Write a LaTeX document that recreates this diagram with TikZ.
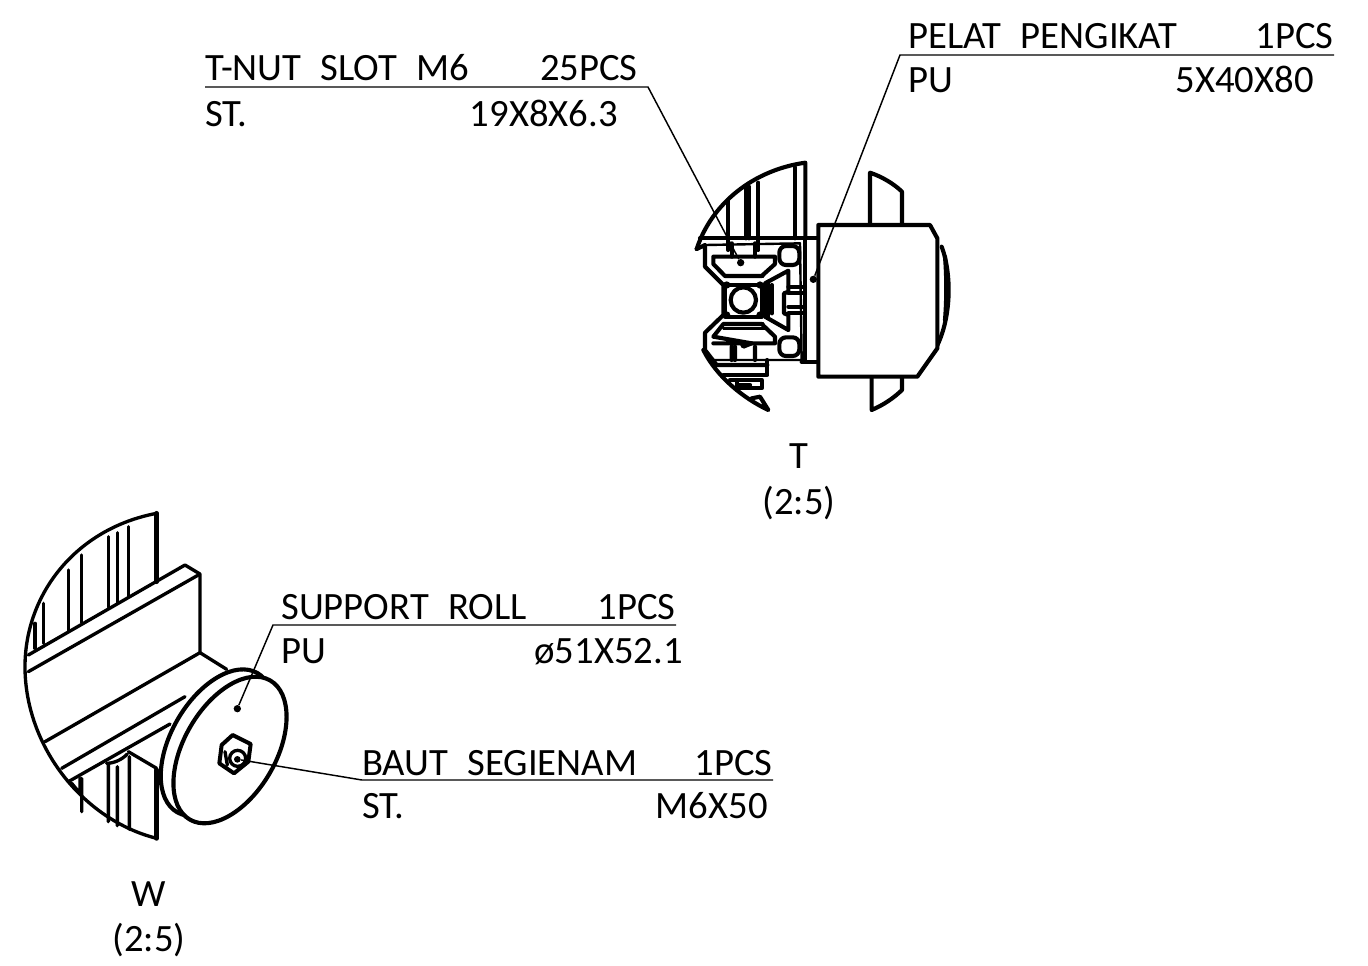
\documentclass[tikz,border=0pt]{standalone}
\usepackage{fontspec}
\setmainfont{Carlito}[WordSpace=2.2]
\tikzset{
 thick line/.style={line width=3.1pt,line join=round,line cap=round},
 med line/.style={line width=2.5pt,line join=round,line cap=round},
 thin line/.style={line width=1.8pt,line join=round,line cap=round},
 leader/.style={line width=1.1pt},
 lab/.style={inner sep=0pt,font=\fontsize{29}{29}\selectfont,anchor=base west},
 labr/.style={inner sep=0pt,font=\fontsize{29}{29}\selectfont,anchor=base east},
 labc/.style={inner sep=0pt,font=\fontsize{29}{29}\selectfont,anchor=base},
 dotn/.style={circle,fill=black,inner sep=0pt,minimum size=6pt}
}
\begin{document}
\begin{tikzpicture}[x=0.75pt,y=-0.75pt]
\useasboundingbox (0,0) rectangle (1368,965);
% ---------- view T
\begin{scope}[shift={(680,150)},x=0.25pt,y=-0.25pt]
 \draw[thick line] (50,297) .. controls (95,160) and (220,60) .. (376,38) -- (376,265);
 \draw[thick line] (145,150) -- (145,300) (197,115) -- (197,265) (207,110) -- (207,265) (235,98) -- (235,300) (345,52) -- (345,265);
 \draw[thick line] (60,265) -- (415,265);
 \draw[thick line] (50,297) -- (75,285) -- (75,350) -- (130,405) -- (130,495) -- (75,548) -- (75,600) -- (110,645) -- (262,645);
 \draw[thin line] (75,285) -- (360,280) -- (365,630) -- (100,630);
 \draw[thick line] (100,320) -- (285,320) -- (285,342) -- (245,378) -- (135,378) -- (100,342) -- cycle;
 \draw[thick line] (155,280) -- (155,320) (225,280) -- (225,320);
 \draw[thick line] (100,580) -- (185,580) (215,580) -- (285,580) -- (285,560) -- (245,522) -- (130,522) -- (100,560) -- cycle;
 \draw[thin line] (130,535) -- (255,535);
 \draw[thick line] (155,590) -- (155,630) (165,590) -- (165,630) (225,590) -- (225,630) (185,580) -- (190,590) -- (215,580);
 \draw[thick line] (135,405) rectangle (245,500);
 \draw[thick line,fill=white] (190,450) circle[radius=38];
 \fill (140,405) circle[radius=11] (240,405) circle[radius=11] (140,495) circle[radius=11] (240,495) circle[radius=11];
 \draw[thin line] (135,380) -- (250,380) (135,520) -- (250,520);
 \draw[thick line,rounded corners=5] (298,288) rectangle (358,345);
 \draw[thick line,rounded corners=5] (298,562) rectangle (358,618);
 \draw[thick line] (255,400) -- (325,362) -- (325,425) -- (312,430) -- (312,490) -- (325,495) -- (325,540) -- (255,500) -- cycle;
 \draw[thick line] (275,405) -- (275,490) (265,395) -- (265,500);
 \draw[thick line] (325,410) -- (375,410) (325,430) -- (375,430) (325,470) -- (375,470) (325,490) -- (375,490);
 \draw[thick line] (375,265) -- (375,635);
 \draw[thick line] (365,635) -- (415,635);
 \draw[thick line] (262,630) -- (262,675) -- (130,675);
 \draw[thick line] (150,690) -- (245,690) -- (245,715) -- (165,715);
 \draw[thick line] (170,690) -- (170,705) -- (210,705);
 \draw[thick line] (70,600) .. controls (110,680) and (190,745) .. (265,780) -- (240,740) -- (215,745);
 \draw[thick line] (570,225) -- (570,68) .. controls (605,80) and (640,100) .. (666,125) -- (666,225);
 \draw[thick line] (575,680) -- (575,780) .. controls (610,765) and (640,745) .. (666,720) -- (666,680);
 \draw[thick line,fill=white] (785,290) .. controls (815,370) and (815,500) .. (770,590);
 \draw[thick line] (795,320) .. controls (800,380) and (800,450) .. (795,510);
 \draw[thick line,fill=white] (415,225) -- (750,225) -- (772,265) -- (772,595) -- (712,680) -- (415,680) -- cycle;
 \node[dotn,minimum size=5.5pt] (dotnut) at (182,338) {};
 \node[dotn,minimum size=5.5pt] (dotpl) at (400,388) {};
\end{scope}
% ---------- view W
\begin{scope}[shift={(10,500)},x=0.25pt,y=-0.25pt]
 \draw[med line] (440,40) .. controls (200,85) and (45,280) .. (45,500) .. controls (45,740) and (220,960) .. (440,1015);
 \draw[thick line,line width=3.6pt] (440,40) -- (440,245);
 \draw[thick line,line width=3.6pt] (440,810) -- (440,1015);
 \draw[med line] (75,370) -- (75,445) (100,310) -- (100,430) (175,210) -- (175,395) (215,165) -- (215,368) (295,110) -- (295,322) (322,98) -- (322,308) (355,80) -- (355,290);
 \draw[med line] (55,465) -- (525,195) -- (570,222) -- (570,455);
 \draw[med line] (55,515) -- (565,225);
 \draw[med line] (105,725) -- (570,458) -- (650,508);
 \draw[med line] (155,805) -- (525,590);
 \draw[med line] (175,845) -- (480,672);
 \draw[med line] (355,755) -- (440,805);
 \draw[med line] (290,790) .. controls (310,790) and (335,780) .. (352,762);
 \draw[med line] (185,850) -- (210,880) -- (210,835) (215,835) -- (215,935) (295,790) -- (295,965) (322,800) -- (322,977) (358,770) -- (358,988);
 \draw[thick line,fill=white] (622,728) ellipse[x radius=60.25pt,y radius=34.5pt,rotate=60];
 \draw[thick line,fill=white] (660,750) ellipse[x radius=60.25pt,y radius=34.5pt,rotate=60];
 \draw[med line,fill=white,line width=3pt] (668,705) -- (722,732) -- (715,785) -- (672,820) -- (628,790) -- (635,735) -- cycle;
 \draw[med line] (683,775) circle[radius=24];
 \draw[med line] (645,755) -- (652,795);
 \node[dotn,minimum size=5.5pt] (dotrl) at (682,626) {};
 \node[dotn,minimum size=5pt] (dotbt) at (682,778) {};
\end{scope}
% ---------- labels
\node[lab] (a1) at (205,80) {T-NUT SLOT M6};
\node[labr] (a2) at (638,80) {25PCS};
\node[lab] (a3) at (205,126) {ST.};
\node[labr] (a4) at (618,126) {19X8X6.3};
\node[lab] (b1) at (908,48) {PELAT PENGIKAT};
\node[labr] (b2) at (1334,48) {1PCS};
\node[lab] (b3) at (908,92) {PU};
\node[labr] (b4) at (1314,92) {5X40X80};
\node[lab] (c1) at (281,619) {SUPPORT ROLL};
\node[labr] (c2) at (676,619) {1PCS};
\node[lab] (c3) at (281,663) {PU};
\node[labr] (c4) at (683,663) {ø51X52.1};
\node[lab] (d1) at (362,775) {BAUT SEGIENAM};
\node[labr] (d2) at (773,775) {1PCS};
\node[lab] (d3) at (362,818) {ST.};
\node[labr] (d4) at (768,818) {M6X50};
\node[labc] (t1) at (799,468) {T};
\node[labc] (t2) at (799,514) {(2:5)};
\node[labc] (w1) at (149,906) {W};
\node[labc] (w2) at (149,951) {(2:5)};
% ---------- leaders
\coordinate (ka) at (205,87); \coordinate (kb) at (648,87);
\draw[leader] (ka) -- (kb) -- (dotnut);
\coordinate (la) at (1334,55); \coordinate (lb) at (900,55);
\draw[leader] (la) -- (lb) -- (dotpl);
\coordinate (ma) at (676,625); \coordinate (mb) at (273,625);
\draw[leader] (ma) -- (mb) -- (dotrl);
\coordinate (na) at (773,780); \coordinate (nb) at (362,780);
\draw[leader] (na) -- (nb) -- (dotbt);
\end{tikzpicture}
\end{document}
